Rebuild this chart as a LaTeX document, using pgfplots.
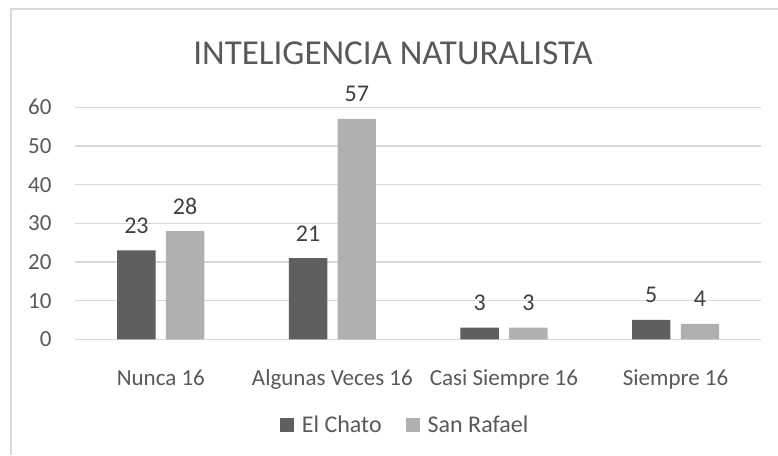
\documentclass[border=0pt]{standalone}
\usepackage{fontspec}
\setmainfont{Carlito}
\usepackage{pgfplots}
\pgfplotsset{compat=1.18}
\definecolor{DarkBar}{HTML}{5F5F5F}
\definecolor{LightBar}{HTML}{B0B0B0}
\definecolor{GridGray}{HTML}{D9D9D9}
\definecolor{TextGray}{HTML}{595959}
\definecolor{LabelGray}{HTML}{404040}

\begin{document}
\begin{tikzpicture}
% page = 778 x 455, axis box lower left at (0,0), 1px = 1pt
\useasboundingbox (-75pt,-115.7pt) rectangle (703pt,339.3pt);
\draw[GridGray, line width=1.5pt] (-64pt,-116pt) -- (-64pt,330.3pt) -- (704pt,330.3pt);
\begin{axis}[
  at={(0,0)}, anchor=south west,
  scale only axis,
  width=686.4pt, height=232pt,
  ybar=10.3pt, bar width=38.4pt,
  xmin=-0.5, xmax=3.5,
  ymin=0, ymax=60,
  ytick={0,10,...,60},
  xtick=data,
  xticklabels={Nunca 16,Algunas Veces 16,Casi Siempre 16,Siempre 16},
  ymajorgrids=true,
  grid style={GridGray, line width=1.3pt},
  axis line style={draw=none},
  tick style={draw=none},
  /pgf/number format/assume math mode=true,
  tick label style={font=\fontsize{23}{27}\selectfont, text=TextGray},
  yticklabel style={anchor=east, inner sep=0pt, xshift=-23.3pt},
  xticklabel style={anchor=base, inner sep=0pt, yshift=-42.3pt},
  nodes near coords,
  every node near coord/.append style={anchor=base, inner sep=0pt, yshift=17pt,
    font=\fontsize{24}{28}\selectfont, text=LabelGray},
  legend columns=2,
  legend style={draw=none, fill=none, at={(axis description cs:0.481,-0.369)}, anchor=center,
    font=\fontsize{24}{28}\selectfont, text=TextGray,
    /tikz/every odd column/.append style={column sep=6pt},
    /tikz/every even column/.append style={column sep=22pt}},
  legend image code/.code={\fill[#1] (0pt,-7pt) rectangle (14pt,7pt);},
]
\addplot[fill=DarkBar, draw=none] coordinates {(0,23) (1,21) (2,3) (3,5)};
\addplot[fill=LightBar, draw=none] coordinates {(0,28) (1,57) (2,3) (3,4)};
\legend{El Chato,San Rafael}
\end{axis}
\node[anchor=base, inner sep=0pt, text=TextGray, font=\fontsize{35}{40}\selectfont]
  at (393pt-75pt,339.3pt-65pt) {INTELIGENCIA NATURALISTA};
\end{tikzpicture}
\end{document}
